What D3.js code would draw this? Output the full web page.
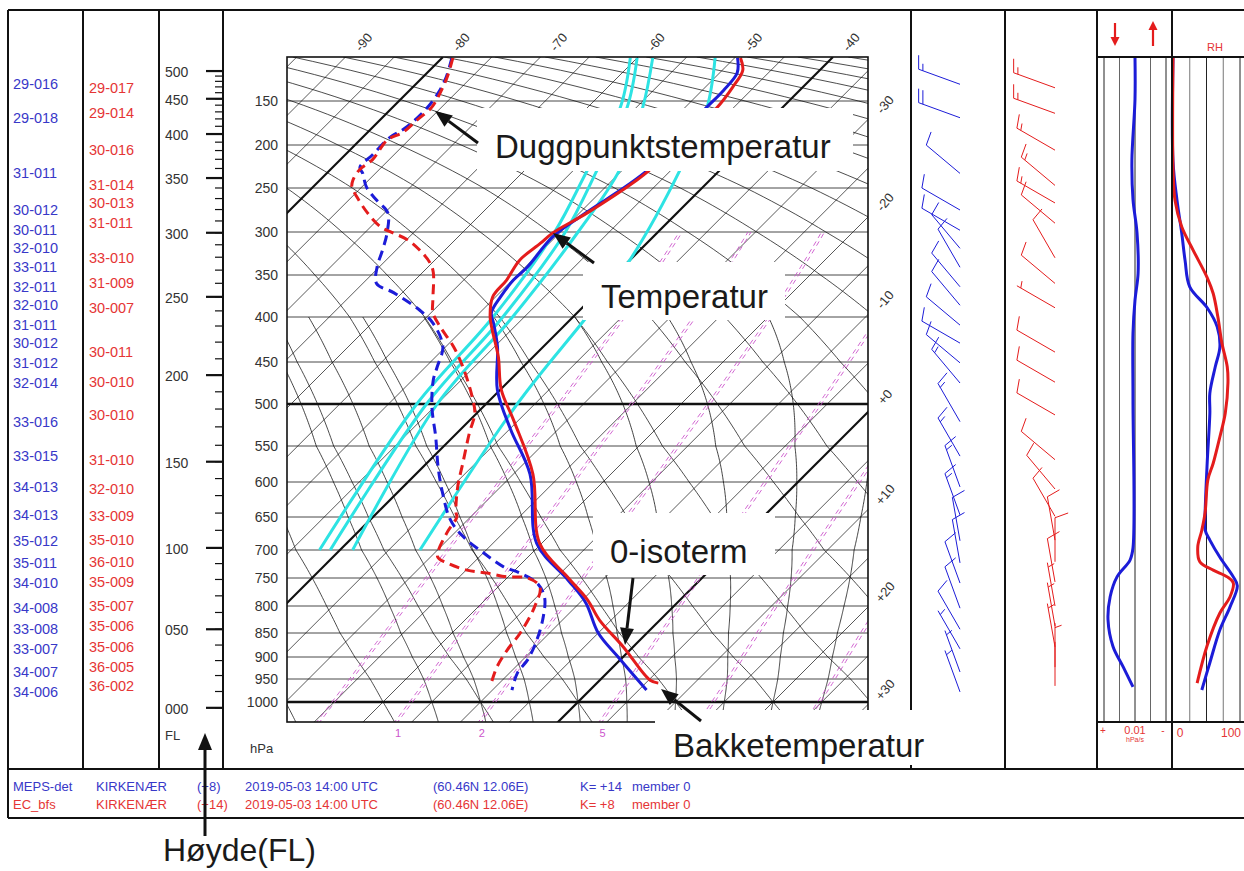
<!DOCTYPE html>
<html><head><meta charset="utf-8">
<script src="https://cdn.jsdelivr.net/npm/d3@7/dist/d3.min.js"></script>
<style>
body{margin:0;background:#fff;}
svg{display:block;font-family:"Liberation Sans",Arial,Helvetica,sans-serif;}
</style></head><body>
<svg id="chart" width="1244" height="871"></svg>
<script>
// ================= DATA =================
const pressureTicks=[150,200,250,300,350,400,450,500,550,600,650,700,750,800,850,900,950,1000];
const flMajorTicks=[0,50,100,150,200,250,300,350,400,450,500];
const flMinorTicks=d3.range(0,501,10);
const topTempLabels=[-90,-80,-70,-60,-50,-40];
const rightTempLabels=[-30,-20,-10,0,10,20,30];
const rightTempText=["-30","-20","-10","+0","+10","+20","+30"];
const isotherms=d3.range(-160,51,5);
const thickIsotherms=[-80,-40,0,40];
const dryAdiabats=d3.range(-40,200,10);      // theta (degC at 1000 hPa)
const moistAdiabats=d3.range(-15,36,5);      // theta-w (degC)
const mixingRatios=[0.5,1,2,5,10,20];        // g/kg
const mixingLabels=[1,2,5];

// MEPS-det (blue) temperature profile
const mepsTempP=[101,118,138,158,229,279,306,341,356,376,395,407,433,483,530,589,690,753,794,850,900,974];
const mepsTemp=[-49.7,-48.2,-47.8,-47.8,-47.4,-49.4,-50.3,-49.8,-49.9,-49.5,-48.8,-47.5,-44.7,-40.3,-34.9,-28.3,-20.5,-13.6,-9.4,-5.0,-0.5,5.8];
// EC_bfs (red) temperature profile
const ecTempP=[101,115,134,158,229,241,278,301,313,333,356,376,400,414,444,483,521,589,690,750,789,826,879,952,959];
const ecTemp=[-49.4,-47.9,-47.2,-46.7,-47.2,-47.5,-49.2,-50.7,-50.9,-51.3,-50.6,-50.3,-48.5,-47.0,-43.6,-39.9,-35.3,-28.0,-20.2,-13.7,-9.5,-6.2,-1.0,5.1,6.3];
// dew points
const ecDewP=[101,123,141,157,172,186,194,217,229,241,249,260,278,294,301,309,321,336,347,380,395,411,433,459,492,511,535,574,607,643,650,674,712,723,736,741,748,750,766,802,850,885,923,957];
const ecDew=[-78.9,-77.5,-76.6,-76.0,-76.2,-76.4,-77.2,-76.7,-77.0,-76.6,-76.0,-74.5,-71.8,-69.0,-67.1,-64.9,-62.6,-60.2,-58.9,-56.1,-54.8,-52.6,-49.2,-45.8,-42.1,-40.2,-38.7,-36.3,-34.4,-32.0,-31.4,-30.8,-29.3,-27.7,-24.9,-22.6,-20.1,-17.9,-15.7,-14.2,-13.0,-12.6,-11.9,-10.9];
const mepsDewP=[101,123,141,160,181,191,211,226,233,249,264,278,301,321,341,360,371,392,407,433,456,471,504,539,581,616,654,680,705,730,741,759,784,820,864,906,936,974];
const mepsDew=[-79.0,-77.6,-76.8,-76.4,-76.6,-77.2,-77.2,-77.2,-76.3,-74.5,-72.1,-69.7,-67.7,-66.4,-65.2,-63.6,-60.9,-56.4,-53.7,-50.3,-48.8,-47.9,-45.2,-41.8,-38.3,-35.3,-31.8,-28.7,-25.0,-21.5,-19.2,-16.4,-14.2,-12.3,-10.6,-9.5,-9.2,-8.0];
// cyan (contrail) curves
const cyanP=[101,158,229,300,400,500,700];
const cyanA=[-60.7,-56.6,-53.6,-50.6,-48.2,-47.1,-42.1];
const cyanB=[-60.0,-55.9,-52.6,-49.5,-47.2,-46.1,-41.0];
const cyanC=[-58.4,-54.3,-50.3,-48.2,-46.2,-45.0,-38.7];
const cyanEP=[101,158,229,333,400,500,700];
const cyanE=[-52.0,-47.7,-44.1,-40.0,-38.6,-36.8,-31.8];
// winds (direction-speed)
const mepsWindP=[131,169,233,275,298,319,341,364,386,409,429,451,475,521,564,607,647,686,723,759,804,843,883,934,978];
const mepsWind=["29-016","29-018","31-011","30-012","30-011","32-010","33-011","32-011","32-010","31-011","30-012","31-012","32-014","33-016","33-015","34-013","34-013","35-012","35-011","34-010","34-008","33-008","33-007","34-007","34-006"];
const ecWindP=[135,164,206,247,267,290,330,360,389,439,474,513,569,610,649,685,721,757,800,837,879,923,965];
const ecWind=["29-017","29-014","30-016","31-014","30-013","31-011","33-010","31-009","30-007","30-011","30-010","30-010","31-010","32-010","33-009","35-010","36-010","35-009","35-007","35-006","35-006","36-005","36-002"];
// vertical velocity (MEPS)
const omegaP=[101,148,218,263,301,348,380,418,495,697,718,748,783,826,878,922,967];
const omega=[0,0,0.002,0.0013,-0.0013,-0.002,0,0.0013,0.0013,0.0013,0.0032,0.0116,0.016,0.0174,0.0142,0.0077,0.0013];
const omegaTicks=[-0.02,-0.01,0,0.01,0.02];
// relative humidity
const ecRhP=[101,226,264,294,321,353,372,400,429,456,475,511,539,574,597,643,670,695,721,736,748,759,784,813,876,959];
const ecRh=[0,0,3,13,30,51,60,67,73,81,82,78,70,60,52,48,43,37,40,60,81,90,85,70,51,36];
const mepsRhP=[101,219,264,301,333,364,389,411,433,456,487,511,574,643,670,685,713,748,764,802,844,913,974];
const mepsRh=[0,0,6,13,18,25,51,66,70,63,55,55,51,48,48,55,70,90,96,85,70,55,43];
const rhTicks=[25,50,75,100];
// legend rows
const legendMeps=["MEPS-det","KIRKENÆR","(+8)","2019-05-03 14:00 UTC","(60.46N  12.06E)","K= +14","member 0"];
const legendEc=["EC_bfs","KIRKENÆR","(+14)","2019-05-03 14:00 UTC","(60.46N  12.06E)","K= +8","member 0"];
const annotations=["Duggpunktstemperatur","Temperatur","0-isoterm","Bakketemperatur","Høyde(FL)"];

// ================= LAYOUT =================
const BLUE="#1c1cd8", RED="#e41c1c", CYAN="#2de3e3", MAG="#cc55cc";
const TXTB="#3838c8", TXTR="#e53535";
const box={l:287,r:868,t:57,b:722};
const pCal=[100,150,200,250,300,350,400,450,500,550,600,650,700,750,800,850,900,950,1000,1050];
const yCal=[57,101,145,188,232,275,317,362,404,446,482,517,550,578,606,633,657,679,702,724];
const yP=d3.scaleLinear().domain(pCal).range(yCal);
const xTop=d3.scaleLinear().domain([-90,-40]).range([345.5,833]);
const sx=(T,p)=>xTop(T)-(yP(p)-box.t);
const skewLine=d3.line().x(d=>sx(d[1],d[0])).y(d=>yP(d[0]));
const pBottom=yP.invert(box.b);

const svg=d3.select("#chart");
svg.append("rect").attr("width",1244).attr("height",871).attr("fill","#fff");
svg.append("defs").append("clipPath").attr("id","clip").append("rect")
  .attr("x",box.l).attr("y",box.t).attr("width",box.r-box.l).attr("height",box.b-box.t);
const plot=svg.append("g").attr("clip-path","url(#clip)");

// ---- grid: isobars
plot.selectAll(".isobar").data(pressureTicks).join("line")
  .attr("x1",box.l).attr("x2",box.r).attr("y1",d=>yP(d)).attr("y2",d=>yP(d))
  .attr("stroke",d=>(d===500||d===1000)?"#111":"#333").attr("stroke-width",d=>(d===500||d===1000)?2.4:0.9);
// ---- isotherms
plot.selectAll(".iso").data(isotherms).join("line")
  .attr("x1",d=>sx(d,100)).attr("y1",yP(100)).attr("x2",d=>sx(d,1050)).attr("y2",yP(1050))
  .attr("stroke","#111").attr("stroke-width",d=>thickIsotherms.includes(d)?2.2:0.7);
// ---- dry adiabats
const pDry=d3.range(100,1051,5);
plot.selectAll(".dry").data(dryAdiabats).join("path")
  .attr("d",th=>skewLine(pDry.map(p=>[p,(th+273.15)*Math.pow(p/1000,0.2857)-273.15])))
  .attr("fill","none").attr("stroke","#111").attr("stroke-width",0.75);
// ---- moist adiabats
function dTdp(T,p){const Tc=T-273.15;const es=6.112*Math.exp(17.67*Tc/(Tc+243.5));const rs=0.622*es/(p-es);
  return (287*T+2.5e6*rs)/(p*(1004+2.5e6*2.5e6*rs*0.622/(287*T*T)));}
function moistPath(thw){
  const up=[],down=[];let T=thw+273.15,p=1000;
  while(p>400){up.push([p,T-273.15]);const k1=dTdp(T,p);const k2=dTdp(T-2*k1,p-2);T=T-(k1+k2);p-=2;}
  up.push([p,T-273.15]);
  T=thw+273.15;p=1000;
  while(p<1050){const k1=dTdp(T,p);const k2=dTdp(T+2*k1,p+2);T=T+(k1+k2);p+=2;down.push([p,T-273.15]);}
  return down.reverse().concat(up);
}
plot.selectAll(".moist").data(moistAdiabats).join("path")
  .attr("d",t=>skewLine(moistPath(t))).attr("fill","none").attr("stroke","#111").attr("stroke-width",0.8);
// ---- mixing ratio lines (double dashed)
const pMix=d3.range(1050,299,-10);
function tdFromW(w,p){const e=w*p/(622+w);const l=Math.log(e/6.112);return 243.5*l/(17.67-l);}
[-1.5,1.5].forEach(off=>{
  plot.selectAll(".mix"+(off>0?"a":"b")).data(mixingRatios).join("path")
    .attr("d",w=>skewLine(pMix.map(p=>[p,tdFromW(w,p)]))).attr("transform",`translate(${off},0)`)
    .attr("fill","none").attr("stroke",MAG).attr("stroke-width",0.9).attr("stroke-dasharray","5,4");
});
// ---- cyan curves
const smoothSkew=d3.line().x(d=>sx(d[1],d[0])).y(d=>yP(d[0])).curve(d3.curveCatmullRom.alpha(0.5));
[[cyanP,cyanA],[cyanP,cyanB],[cyanP,cyanC],[cyanEP,cyanE]].forEach(([pp,tt])=>{
  plot.append("path").attr("d",smoothSkew(pp.map((p,i)=>[p,tt[i]])))
    .attr("fill","none").attr("stroke",CYAN).attr("stroke-width",3);
});
// ---- profiles
function prof(pp,tt,col,dash){
  plot.append("path").attr("d",smoothSkew(pp.map((p,i)=>[p,tt[i]])))
    .attr("fill","none").attr("stroke",col).attr("stroke-width",3)
    .attr("stroke-dasharray",dash?"10,6":null).attr("stroke-linejoin","round");
}
prof(mepsDewP,mepsDew,BLUE,true);
prof(ecDewP,ecDew,RED,true);
prof(mepsTempP,mepsTemp,BLUE,false);
prof(ecTempP,ecTemp,RED,false);

// ---- plot frame
svg.append("rect").attr("x",box.l).attr("y",box.t).attr("width",box.r-box.l).attr("height",box.b-box.t)
  .attr("fill","none").attr("stroke","#111").attr("stroke-width",1.6);

// ---- pressure labels
svg.selectAll(".plab").data(pressureTicks).join("text")
  .attr("x",278).attr("y",d=>yP(d)).attr("dy","0.35em").attr("text-anchor","end")
  .attr("font-size",14).attr("fill","#333").text(d=>d);
svg.append("text").attr("x",250).attr("y",753).attr("font-size",13).attr("fill","#333").text("hPa");
// ---- top temperature labels
svg.selectAll(".tt").data(topTempLabels).join("text")
  .attr("transform",d=>`translate(${xTop(d)+18},42) rotate(-50)`).attr("text-anchor","middle").attr("dy","0.35em")
  .attr("font-size",13).attr("fill","#333").text(d=>d);
// ---- right temperature labels
svg.selectAll(".rt").data(rightTempLabels).join("text")
  .attr("transform",(d,i)=>`translate(885,${box.t+(xTop(d)-box.r)-15}) rotate(-50)`).attr("text-anchor","middle").attr("dy","0.35em")
  .attr("font-size",13).attr("fill","#333").text((d,i)=>rightTempText[i]);
// ---- mixing ratio labels
svg.selectAll(".ml").data(mixingLabels).join("text")
  .attr("x",d=>sx(tdFromW(d,pBottom),pBottom)+2).attr("y",737).attr("text-anchor","middle")
  .attr("font-size",11).attr("fill",MAG).text(d=>d);

// ---- FL axis
function flToP(fl){const z=fl*30.48;return z<=11000?1013.25*Math.pow(1-0.0065*z/288.15,5.25588):226.32*Math.exp(-9.80665*(z-11000)/(287.053*216.65));}
svg.selectAll(".flmin").data(flMinorTicks).join("line")
  .attr("x1",215).attr("x2",223).attr("y1",d=>yP(flToP(d))).attr("y2",d=>yP(flToP(d))).attr("stroke","#111").attr("stroke-width",1.2);
svg.selectAll(".flmaj").data(flMajorTicks).join("line")
  .attr("x1",206).attr("x2",223).attr("y1",d=>yP(flToP(d))).attr("y2",d=>yP(flToP(d))).attr("stroke","#111").attr("stroke-width",2.2);
svg.selectAll(".fllab").data(flMajorTicks).join("text")
  .attr("x",165).attr("y",d=>yP(flToP(d))+1).attr("dy","0.35em").attr("font-size",14).attr("fill","#333")
  .text(d=>d3.format("03d")(d));
svg.append("text").attr("x",165).attr("y",740).attr("font-size",13).attr("fill","#333").text("FL");

// ---- wind text columns
svg.selectAll(".wb").data(mepsWind).join("text").attr("x",13).attr("y",(d,i)=>yP(mepsWindP[i])).attr("dy","0.35em")
  .attr("font-size",14.5).attr("fill",TXTB).text(d=>d);
svg.selectAll(".wr").data(ecWind).join("text").attr("x",89).attr("y",(d,i)=>yP(ecWindP[i])).attr("dy","0.35em")
  .attr("font-size",14.5).attr("fill",TXTR).text(d=>d);

// ---- wind barbs
function barb(x0,y0,code,col){
  const dir=+code.slice(0,2)*10, spd=+code.slice(3);
  const a=dir*Math.PI/180, ux=Math.sin(a), uy=-Math.cos(a), L=44;
  const tx=x0+L*ux, ty=y0+L*uy;
  const b=70*Math.PI/180, fx=ux*Math.cos(b)-uy*Math.sin(b), fy=ux*Math.sin(b)+uy*Math.cos(b);
  const g=svg.append("g").attr("stroke",col).attr("stroke-width",1).attr("fill","none");
  g.append("line").attr("x1",x0).attr("y1",y0).attr("x2",tx).attr("y2",ty);
  let s=Math.round(spd/5)*5, pos=0;
  while(s>=10){const bx=tx-ux*pos,by=ty-uy*pos;g.append("line").attr("x1",bx).attr("y1",by).attr("x2",bx+fx*14).attr("y2",by+fy*14);pos+=4.5;s-=10;}
  if(s>=5){if(pos===0)pos=4.5;const bx=tx-ux*pos,by=ty-uy*pos;g.append("line").attr("x1",bx).attr("y1",by).attr("x2",bx+fx*7).attr("y2",by+fy*7);}
}
mepsWind.forEach((c,i)=>barb(960,yP(mepsWindP[i]),c,BLUE));
ecWind.forEach((c,i)=>barb(1055,yP(ecWindP[i]),c,RED));

// ---- omega panel
const xOm=d3.scaleLinear().domain([0.02,-0.02]).range([1104,1166]);
svg.selectAll(".omg").data(omegaTicks).join("line").attr("x1",d=>xOm(d)).attr("x2",d=>xOm(d)).attr("y1",57).attr("y2",722)
  .attr("stroke",(d,i)=>i%2?"#666":"#222").attr("stroke-width",1);
svg.append("path").attr("d",d3.line().x(d=>xOm(d[1])).y(d=>yP(d[0])).curve(d3.curveCatmullRom)(omegaP.map((p,i)=>[p,omega[i]])))
  .attr("fill","none").attr("stroke",BLUE).attr("stroke-width",3);
// ---- RH panel
const xRh=d3.scaleLinear().domain([0,100]).range([1173,1240]);
svg.selectAll(".rhg").data(rhTicks).join("line").attr("x1",d=>xRh(d)).attr("x2",d=>xRh(d)).attr("y1",57).attr("y2",722)
  .attr("stroke",(d,i)=>i%2?"#222":"#777").attr("stroke-width",1);
const rhLine=d3.line().x(d=>xRh(d[1])).y(d=>yP(d[0])).curve(d3.curveCatmullRom);
svg.append("path").attr("d",rhLine(mepsRhP.map((p,i)=>[p,mepsRh[i]]))).attr("fill","none").attr("stroke",BLUE).attr("stroke-width",3);
svg.append("path").attr("d",rhLine(ecRhP.map((p,i)=>[p,ecRh[i]]))).attr("fill","none").attr("stroke",RED).attr("stroke-width",3);
// header arrows
function vArrow(x,yFrom,yTo){
  const dir=Math.sign(yTo-yFrom);
  svg.append("line").attr("x1",x).attr("y1",yFrom).attr("x2",x).attr("y2",yTo-dir*7).attr("stroke","#e41c1c").attr("stroke-width",2.2);
  svg.append("path").attr("d",`M${x},${yTo}L${x-4.5},${yTo-dir*9}L${x+4.5},${yTo-dir*9}Z`).attr("fill","#e41c1c");
}
vArrow(1115,23,46);
vArrow(1153,46,21);
svg.append("text").attr("x",1215).attr("y",51).attr("text-anchor","middle").attr("font-size",11).attr("fill",TXTR).text("RH");
svg.append("text").attr("x",1103).attr("y",734).attr("text-anchor","middle").attr("font-size",10).attr("fill",TXTR).text("+");
svg.append("text").attr("x",1135).attr("y",734).attr("text-anchor","middle").attr("font-size",11).attr("fill",TXTR).text("0.01");
svg.append("text").attr("x",1135).attr("y",742).attr("text-anchor","middle").attr("font-size",7).attr("fill",TXTR).text("hPa/s");
svg.append("text").attr("x",1163).attr("y",734).attr("text-anchor","middle").attr("font-size",10).attr("fill",TXTR).text("-");
svg.append("text").attr("x",1180).attr("y",737).attr("text-anchor","middle").attr("font-size",12).attr("fill",TXTR).text("0");
svg.append("text").attr("x",1231).attr("y",737).attr("text-anchor","middle").attr("font-size",12).attr("fill",TXTR).text("100");

// ---- frame lines
const fr=svg.append("g").attr("stroke","#111").attr("stroke-width",2);
[[8,10,1250,10],[8,769,1250,769],[8,818,1250,818],[8,10,8,818],
 [83,10,83,769],[159,10,159,769],[223,10,223,769],[911,10,911,769],[1005,10,1005,769],[1097,10,1097,769],[1172,10,1172,769],
 [1097,57,1250,57],[1097,722,1250,722]].forEach(l=>fr.append("line").attr("x1",l[0]).attr("y1",l[1]).attr("x2",l[2]).attr("y2",l[3]));

// ---- legend
const legX=[13,96,197,245,433,580,632];
legendMeps.forEach((t,i)=>svg.append("text").attr("x",legX[i]).attr("y",791).attr("font-size",13).attr("fill",TXTB).text(t));
legendEc.forEach((t,i)=>svg.append("text").attr("x",legX[i]).attr("y",809).attr("font-size",13).attr("fill",TXTR).text(t));

// ---- annotation boxes
const boxes=[[477,108,376,63],[583,262,202,58],[593,513,182,62],[655,710,275,55]];
boxes.forEach(b=>svg.append("rect").attr("x",b[0]).attr("y",b[1]).attr("width",b[2]).attr("height",b[3]).attr("fill","#fff"));
const annPos=[[495,158],[601,308],[610,563],[673,757],[163,861]];
annotations.forEach((t,i)=>svg.append("text").attr("x",annPos[i][0]).attr("y",annPos[i][1]).attr("font-size",i===4?32:33).attr("fill","#1a1a1a").text(t));
function arrow(x1,y1,x2,y2){
  const dx=x2-x1,dy=y2-y1,len=Math.hypot(dx,dy),ux=dx/len,uy=dy/len,h=17,w=7;
  const bx=x2-ux*h,by=y2-uy*h;
  svg.append("line").attr("x1",x1).attr("y1",y1).attr("x2",bx).attr("y2",by).attr("stroke","#111").attr("stroke-width",3);
  svg.append("path").attr("d",`M${x2},${y2}L${bx-uy*w},${by+ux*w}L${bx+uy*w},${by-ux*w}Z`).attr("fill","#111");
}
arrow(478,143,435,111);
arrow(594,263,553,233);
arrow(633,578,625,645);
arrow(701,721,661,689);
arrow(205,836,205,733);
</script></body></html>
